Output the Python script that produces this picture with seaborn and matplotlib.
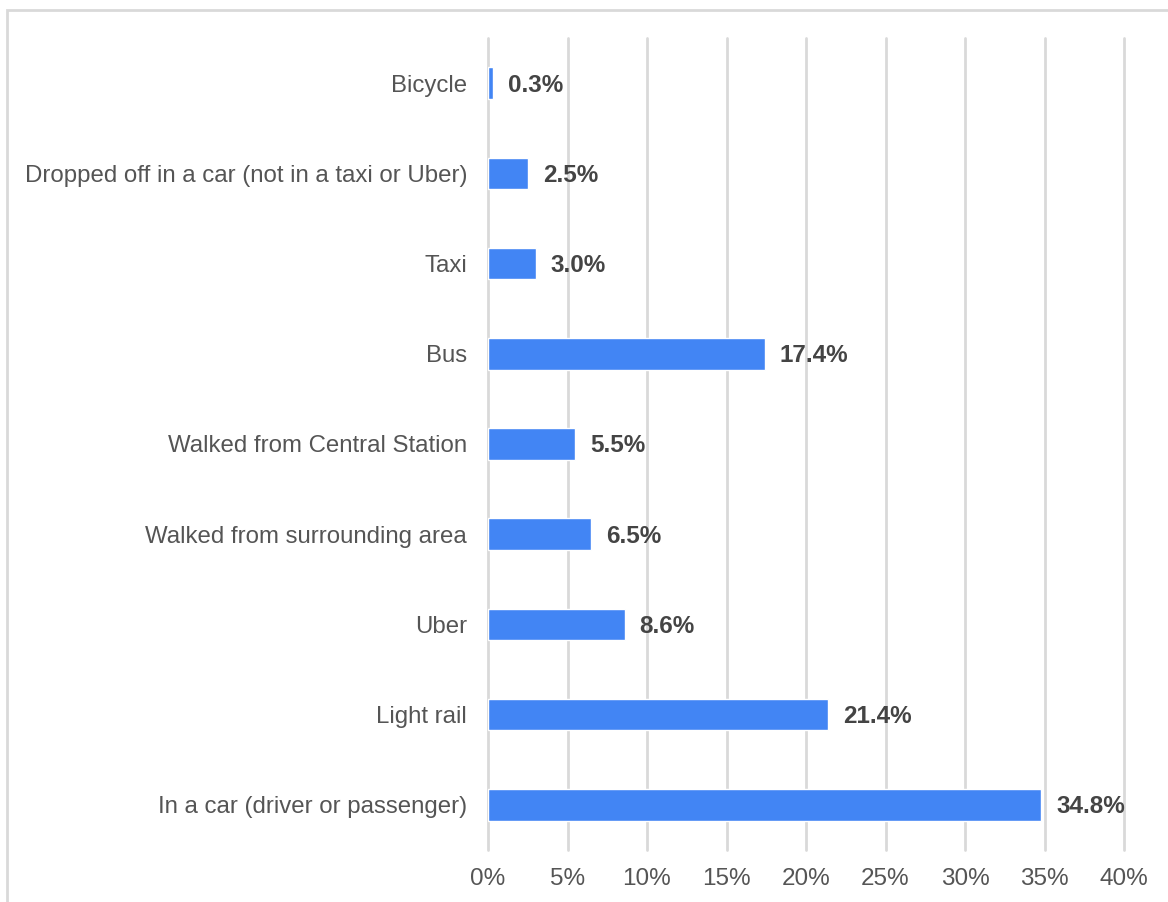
import matplotlib
matplotlib.use("Agg")
import matplotlib.pyplot as plt
import seaborn as sns
import pandas as pd
from matplotlib.patches import Rectangle

categories = ["Bicycle", "Dropped off in a car (not in a taxi or Uber)", "Taxi", "Bus",
              "Walked from Central Station", "Walked from surrounding area", "Uber",
              "Light rail", "In a car (driver or passenger)"]
values = [0.3, 2.5, 3.0, 17.4, 5.5, 6.5, 8.6, 21.4, 34.8]
xticks = [0, 5, 10, 15, 20, 25, 30, 35, 40]
xtick_labels = ["0%", "5%", "10%", "15%", "20%", "25%", "30%", "35%", "40%"]

sns.set_theme(style="white")
plt.rcParams['font.family'] = ['Liberation Sans', 'DejaVu Sans']

df = pd.DataFrame({"mode": categories, "pct": values})

fig = plt.figure(figsize=(11.68, 9.02), dpi=100)
ax = fig.add_axes([488/1168, 1 - 850/902, (1124 - 488)/1168, (850 - 38)/902])

sns.barplot(data=df, x="pct", y="mode", orient="h", color="#4285F4", saturation=1,
            width=0.35, ax=ax, zorder=3)

ax.set_xlim(0, 40)
ax.set_ylim(8.5, -0.5)
ax.set_xticks(xticks)
ax.set_xticklabels(xtick_labels)
ax.xaxis.grid(True, color="#d9d9d9", linewidth=2, zorder=0)
for gl in ax.get_xgridlines():
    gl.set_clip_on(False)
ax.set_axisbelow(True)
for s in ax.spines.values():
    s.set_visible(False)
ax.tick_params(axis="x", length=0, labelsize=17.5, colors="#555555", pad=13)
ax.tick_params(axis="y", length=0, labelsize=17.3, colors="#555555", pad=15)
ax.set_xlabel("")
ax.set_ylabel("")

for i, v in enumerate(values):
    ax.annotate(f"{v:.1f}%", xy=(v, i), xytext=(15, -2), textcoords="offset pixels",
                va="center", ha="left", fontsize=17.5, fontweight="bold", color="#444444")

fig.patches.append(Rectangle((7/1168, -0.05), 1.2, 1 - 9.5/902 + 0.05, transform=fig.transFigure,
                             fill=False, edgecolor="#d9d9d9", linewidth=2, zorder=0))

fig.savefig("out.png", dpi=100)
